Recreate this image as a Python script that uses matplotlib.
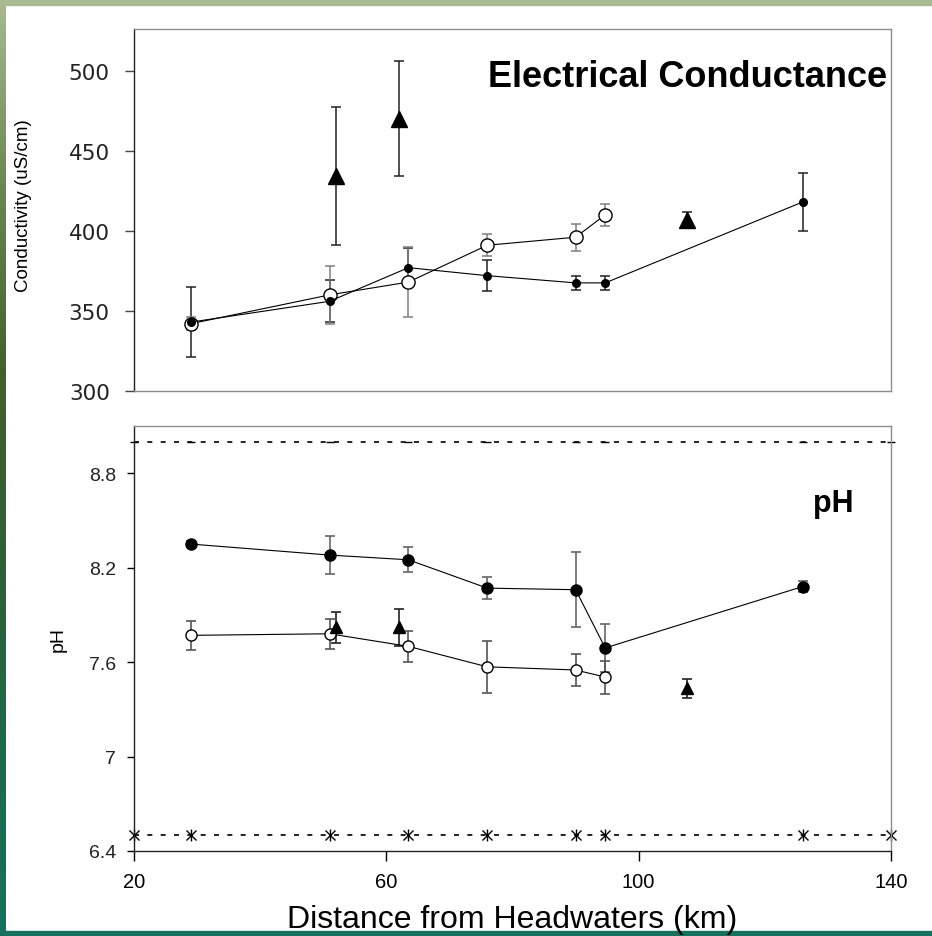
import numpy as np
import matplotlib
matplotlib.use('Agg')
import matplotlib.pyplot as plt
from matplotlib.patches import Rectangle
from matplotlib.colors import LinearSegmentedColormap

plt.rcParams['font.family'] = ['Liberation Sans', 'DejaVu Sans']

# sampling sites (km from headwaters)
site_km = [29, 51, 63.5, 76, 90, 94.7, 126]
open_km = [29, 51, 63.5, 76, 90, 94.7]
tri_km = [52, 62, 107.7]

# conductivity (uS/cm)
cond_filled = [343, 356, 377, 372, 367.5, 367.5, 418]
cond_filled_err = [22, 13, 12, 9.5, 4.5, 4.5, 18]
cond_open = [342, 360, 368, 391, 396, 410]
cond_open_err = [4, 18, 22, 7, 8.5, 7]
cond_tri = [434, 470, 407]
cond_tri_err = [43, 36, 5]

# pH
ph_filled = [8.35, 8.28, 8.25, 8.07, 8.06, 7.69, 8.08]
ph_filled_err = [0.02, 0.12, 0.08, 0.07, 0.24, 0.15, 0.035]
ph_open = [7.77, 7.78, 7.70, 7.57, 7.55, 7.505]
ph_open_err = [0.09, 0.095, 0.1, 0.165, 0.1, 0.105]
ph_tri = [7.82, 7.82, 7.435]
ph_tri_err = [0.1, 0.12, 0.06]

ph_upper = 9.0
ph_lower = 6.5
limit_km = [20, 29, 51, 63.5, 76, 90, 94.7, 126, 140]

W, H = 932, 937
fig = plt.figure(figsize=(W / 100, H / 100), dpi=100)


def box(l, t, r, b):
    return [l / W, 1 - b / H, (r - l) / W, (b - t) / H]


def style_frame(ax, dark):
    for s in ['top', 'right', 'bottom', 'left']:
        ax.spines[s].set_color('#8c8c8c')
        ax.spines[s].set_linewidth(1.0)
    for s in dark:
        ax.spines[s].set_color('#222222')


# ---- conductivity panel
ax1 = fig.add_axes(box(134, 30, 891, 392))
ax1.errorbar(site_km, cond_filled, yerr=cond_filled_err, fmt='none', ecolor='#222222',
             elinewidth=1.1, capsize=3.5, capthick=1.1, zorder=2)
ax1.errorbar(open_km, cond_open, yerr=cond_open_err, fmt='none', ecolor='#7f7f7f',
             elinewidth=1.1, capsize=3.5, capthick=1.1, zorder=2)
ax1.errorbar(tri_km, cond_tri, yerr=cond_tri_err, fmt='none', ecolor='#222222',
             elinewidth=1.1, capsize=3.5, capthick=1.1, zorder=2)
ax1.plot(open_km, cond_open, '-o', color='black', mfc='white', mec='black', mew=1.0,
         lw=0.8, ms=9.5, zorder=3)
ax1.plot(site_km, cond_filled, '-o', color='black', lw=0.8, ms=5.5, zorder=4)
ax1.plot(tri_km, cond_tri, '^', color='black', ms=11, zorder=5)
ax1.set_xlim(20, 140)
ax1.set_ylim(300, 526)
ax1.set_yticks([300, 350, 400, 450, 500])
ax1.tick_params(axis='y', direction='out', length=6.5, width=1, color='#444444', pad=11)
ax1.tick_params(axis='x', bottom=False, labelbottom=False)
for lab in ax1.get_yticklabels():
    lab.set_fontfamily('DejaVu Sans')
    lab.set_fontsize(15.5)
    lab.set_color('#222222')
style_frame(ax1, ['left'])
ax1.text(0.4676, 0.8425, 'Electrical Conductance', transform=ax1.transAxes,
         fontsize=26, fontweight='bold', ha='left', va='baseline')
fig.text(24 / W, 1 - 206 / H, 'Conductivity (uS/cm)', rotation=90, fontsize=13.5,
         ha='center', va='center')

# ---- pH panel
ax2 = fig.add_axes(box(134, 427, 891, 852))
ax2.plot(limit_km, [ph_upper] * len(limit_km), color='black', lw=1.2, ls=(0, (3, 5)),
         marker='_', ms=6, clip_on=False, zorder=1)
ax2.plot(limit_km, [ph_lower] * len(limit_km), color='black', lw=1.2, ls=(0, (3, 5)),
         marker='x', ms=7, mew=1.0, clip_on=False, zorder=1)
ax2.plot(limit_km, [ph_lower] * len(limit_km), ls='none', color='black',
         marker='|', ms=8, mew=1.0, clip_on=False, zorder=1)
ax2.errorbar(site_km, ph_filled, yerr=ph_filled_err, fmt='none', ecolor='#666666',
             elinewidth=1.2, capsize=3.5, capthick=1.2, zorder=2)
ax2.errorbar(open_km, ph_open, yerr=ph_open_err, fmt='none', ecolor='#555555',
             elinewidth=1.2, capsize=3.5, capthick=1.2, zorder=2)
ax2.errorbar(tri_km, ph_tri, yerr=ph_tri_err, fmt='none', ecolor='#222222',
             elinewidth=1.2, capsize=3.5, capthick=1.2, zorder=2)
ax2.plot(site_km, ph_filled, '-o', color='black', lw=0.8, ms=8, zorder=3)
ax2.plot(open_km, ph_open, '-o', color='black', mfc='white', mec='black', mew=1.0,
         lw=0.8, ms=8, zorder=4)
ax2.plot(tri_km, ph_tri, '^', color='black', ms=8, zorder=5)
ax2.set_xlim(20, 140)
ax2.set_ylim(6.4, 9.1)
ax2.set_xticks([20, 60, 100, 140])
ax2.set_yticks([6.4, 7.0, 7.6, 8.2, 8.8])
ax2.set_yticklabels(['6.4', '7', '7.6', '8.2', '8.8'])
ax2.tick_params(axis='y', direction='out', length=5, width=1, labelsize=14, pad=8,
                labelcolor='#222222')
ax2.tick_params(axis='x', direction='out', length=7, width=1, labelsize=14.5, pad=8)
style_frame(ax2, ['left', 'bottom'])
ax2.set_ylabel('pH', fontsize=14, labelpad=16)
ax2.text(0.897, 0.80, 'pH', transform=ax2.transAxes, fontsize=22, fontweight='bold',
         ha='left', va='baseline')
fig.text(512 / W, 1 - 928 / H, 'Distance from Headwaters (km)', fontsize=23,
         ha='center', va='baseline', zorder=11)

# ---- slide frame
stops = ['#16705e', '#1f6a4c', '#2f6036', '#44602c', '#6a8752', '#a9b991']
cmap = LinearSegmentedColormap.from_list('frame', stops)
side = fig.add_axes([0, 0, 6 / W, 1])
side.imshow(np.linspace(1, 0, 256).reshape(-1, 1), cmap=cmap, aspect='auto',
            extent=(0, 1, 0, 1), vmin=0, vmax=1)
side.axis('off')
fig.add_artist(Rectangle((0, 1 - 6 / H), 1, 6 / H, transform=fig.transFigure,
                         color='#a9b991', zorder=10))
fig.add_artist(Rectangle((0, 0), 1, 5 / H, transform=fig.transFigure,
                         color='#16705e', zorder=10))

fig.savefig('out.png', dpi=100)
